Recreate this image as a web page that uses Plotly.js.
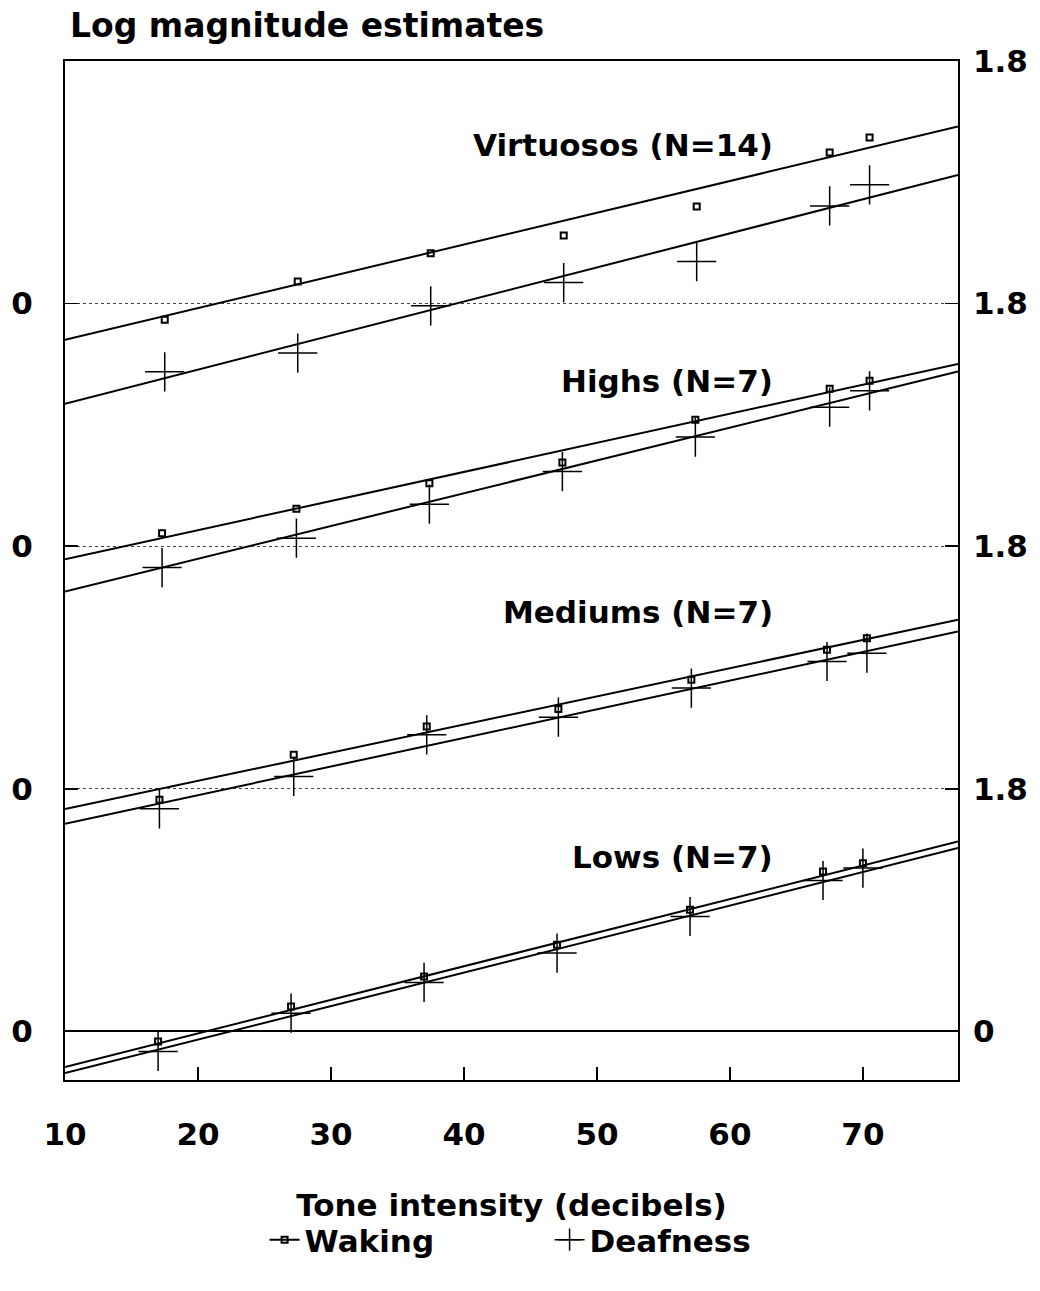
<!DOCTYPE html>
<html>
<head>
<meta charset="utf-8">
<script src="https://cdn.plot.ly/plotly-3.0.1.min.js"></script>
<style>html,body{margin:0;padding:0;background:#fff}#chart{width:1040px;height:1291px}</style>
</head>
<body>
<div id="chart"></div>
<script>
// ---- data (values relative to each group's own zero) ----
const groupNames = ['Lows (N=7)', 'Mediums (N=7)', 'Highs (N=7)', 'Virtuosos (N=14)'];
const groupOffset = [0, 1.8, 3.6, 5.4];

const xLows      = [17, 27, 37, 47, 57, 67, 70];
const xMediums   = [17.1, 27.2, 37.2, 47.1, 57.1, 67.3, 70.3];
const xHighs     = [17.3, 27.4, 37.4, 47.4, 57.4, 67.5, 70.5];
const xVirtuosos = [17.5, 27.5, 37.5, 47.5, 57.5, 67.5, 70.5];

const wakingLows      = [-0.074, 0.185, 0.408, 0.643, 0.903, 1.187, 1.249];
const deafLows        = [-0.148, 0.136, 0.364, 0.582, 0.853, 1.120, 1.212];
const wakingMediums   = [-0.081, 0.253, 0.463, 0.592, 0.809, 1.032, 1.118];
const deafMediums     = [-0.148, 0.092, 0.401, 0.532, 0.748, 0.945, 1.007];
const wakingHighs     = [0.097, 0.278, 0.468, 0.621, 0.938, 1.168, 1.227];
const deafHighs       = [-0.158, 0.060, 0.312, 0.554, 0.810, 1.032, 1.153];
const wakingVirtuosos = [-0.120, 0.164, 0.374, 0.505, 0.720, 1.121, 1.232];
const deafVirtuosos   = [-0.506, -0.367, -0.016, 0.156, 0.312, 0.725, 0.881];

// fitted regression lines (read at x = 10 and x = 77.15)
const fitX = [10, 77.15];
const wakingFitLows      = [-0.264, 1.410];
const deafFitLows        = [-0.309, 1.361];
const wakingFitMediums   = [-0.150, 1.254];
const deafFitMediums     = [-0.259, 1.167];
const wakingFitHighs     = [-0.096, 1.353];
const deafFitHighs       = [-0.336, 1.296];
const wakingFitVirtuosos = [-0.269, 1.314];
const deafFitVirtuosos   = [-0.743, 0.955];

const xTicks = [10, 20, 30, 40, 50, 60, 70];
const leftTickVals = [0, 1.8, 3.6, 5.4];
const leftTickText = ['0', '0', '0', '0'];
const rightTickVals = [0, 1.8, 3.6, 5.4, 7.2];
const rightTickText = ['0', '1.8', '1.8', '1.8', '1.8'];

// ---- build traces ----
const xs = [xLows, xMediums, xHighs, xVirtuosos];
const wak = [wakingLows, wakingMediums, wakingHighs, wakingVirtuosos];
const dea = [deafLows, deafMediums, deafHighs, deafVirtuosos];
const wakFit = [wakingFitLows, wakingFitMediums, wakingFitHighs, wakingFitVirtuosos];
const deaFit = [deafFitLows, deafFitMediums, deafFitHighs, deafFitVirtuosos];

const FONT = 'DejaVu Sans';
const traces = [];
const squareMarker = {symbol: 'square-open', size: 6, color: '#000', line: {color: '#000', width: 2}};
const crossMarker = {symbol: 'cross-thin-open', size: 28, color: '#000', line: {color: '#000', width: 1.5}};

for (let g = 0; g < 4; g++) {
  const off = groupOffset[g];
  traces.push({x: fitX, y: wakFit[g].map(v => v + off), mode: 'lines', line: {color: '#000', width: 2}, showlegend: false, hoverinfo: 'skip'});
  traces.push({x: fitX, y: deaFit[g].map(v => v + off), mode: 'lines', line: {color: '#000', width: 2}, showlegend: false, hoverinfo: 'skip'});
  traces.push({x: xs[g], y: wak[g].map(v => v + off), mode: 'markers', marker: squareMarker, showlegend: false, name: 'Waking'});
  traces.push({x: xs[g], y: dea[g].map(v => v + off), mode: 'markers', marker: crossMarker, showlegend: false, name: 'Deafness'});
}
// legend entries
traces.push({x: [null], y: [null], mode: 'lines+markers', name: 'Waking', line: {color: '#000', width: 2}, marker: squareMarker, yaxis: 'y2'});
traces.push({x: [null], y: [null], mode: 'lines+markers', name: 'Deafness', line: {color: '#000', width: 1.5}, marker: {symbol: 'cross-thin-open', size: 16, color: '#000', line: {color: '#000', width: 1.5}}, yaxis: 'y2'});

const annotations = groupNames.map((name, g) => ({
  text: name, x: 63.4, y: [1.297, 3.113, 4.826, 6.578][g], xref: 'x', yref: 'y',
  xanchor: 'right', yanchor: 'middle', showarrow: false,
  font: {family: FONT, size: 31, color: '#000', weight: 'bold'}
}));

const yRange = [-0.36, 7.2];
const layout = {
  width: 1040, height: 1291,
  paper_bgcolor: '#fff', plot_bgcolor: '#fff',
  margin: {l: 65, r: 82, t: 61, b: 211},
  font: {family: FONT, size: 31, color: '#000', weight: 'bold'},
  title: {text: 'Log magnitude estimates', x: 70/1040, xref: 'container', xanchor: 'left',
          y: 1 - 25/1291, yref: 'container', yanchor: 'middle',
          font: {family: FONT, size: 33, color: '#000', weight: 'bold'}},
  showlegend: true,
  legend: {orientation: 'h', x: 0.2235, xanchor: 'left', y: -0.157, yanchor: 'middle', entrywidth: 240,
           font: {family: FONT, size: 31, color: '#000', weight: 'bold'}, bgcolor: 'rgba(0,0,0,0)'},
  xaxis: {range: [10, 77.15], tickvals: xTicks, ticks: 'inside', ticklen: 13, tickwidth: 1.5, tickcolor: '#000',
          showline: true, linecolor: '#000', linewidth: 2, mirror: true, showgrid: false, zeroline: false,
          ticklabelstandoff: 26, automargin: false,
          tickfont: {family: FONT, size: 31, color: '#000', weight: 'bold'},
          title: {text: 'Tone intensity (decibels)', standoff: 43,
                  font: {family: FONT, size: 31, color: '#000', weight: 'bold'}}},
  yaxis: {range: yRange, tickvals: leftTickVals, ticktext: leftTickText, ticks: 'inside', ticklen: 13, tickwidth: 1.5,
          tickcolor: '#000', showline: true, linecolor: '#000', linewidth: 2, mirror: true,
          showgrid: true, gridcolor: '#444', griddash: 'dot', gridwidth: 1,
          zeroline: true, zerolinecolor: '#000', zerolinewidth: 2,
          ticklabelstandoff: 24, automargin: false,
          tickfont: {family: FONT, size: 31, color: '#000', weight: 'bold'}},
  yaxis2: {range: yRange, overlaying: 'y', side: 'right', tickvals: rightTickVals, ticktext: rightTickText,
           ticks: 'inside', ticklen: 13, tickwidth: 1.5, tickcolor: '#000', showgrid: false, zeroline: false,
           showline: false, ticklabelstandoff: 14, automargin: false,
           tickfont: {family: FONT, size: 31, color: '#000', weight: 'bold'}},
  annotations: annotations
};

Plotly.newPlot('chart', traces, layout, {displayModeBar: false, staticPlot: true});
</script>
</body>
</html>
